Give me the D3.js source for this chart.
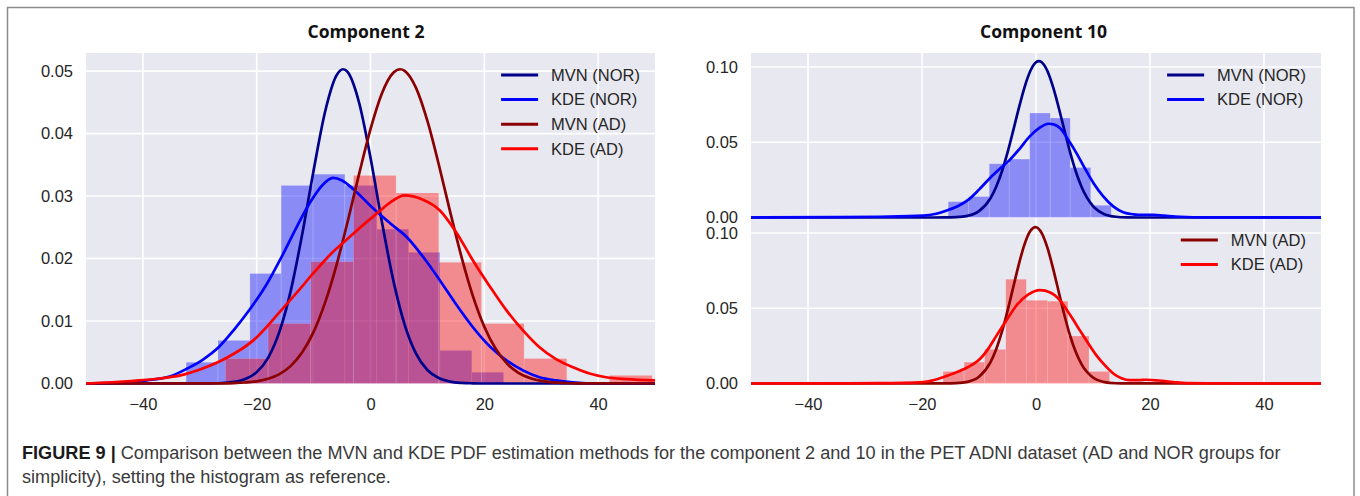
<!DOCTYPE html>
<html><head><meta charset="utf-8">
<script src="https://cdn.jsdelivr.net/npm/d3@7"></script>
<style>body{margin:0;background:#fff;} svg{display:block;}</style>
</head><body><svg id="chart" width="1360" height="496"></svg>
<script>
// ---------------- DATA ----------------
const xTicks = [-40, -20, 0, 20, 40];
const c2YTicks = [0, 0.01, 0.02, 0.03, 0.04, 0.05];
const c10YTicks = [0, 0.05, 0.10];

const titles = ['Component 2', 'Component 10'];
const seriesNames = ['MVN (NOR)', 'KDE (NOR)', 'MVN (AD)', 'KDE (AD)'];

// Component 2 histograms (bin edges + density heights)
const c2NorEdges = [-32.4, -26.8, -21.2, -15.7, -10.1, -4.5, 1.1, 6.7, 12.2, 17.8, 23.4];
const c2NorHist  = [0.0034, 0.0069, 0.0176, 0.0317, 0.0335, 0.0317, 0.0247, 0.0210, 0.0053, 0.0018];
const c2AdEdges  = [-25.5, -18, -10.5, -3, 4.5, 12, 19.5, 27, 34.5, 42, 49.5];
const c2AdHist   = [0.0040, 0.0096, 0.0195, 0.0333, 0.0305, 0.0194, 0.0096, 0.0040, 0, 0.0013];

// Component 2 curves [x, density]
const c2MvnNor = [[-50,0],[-30,0.00001],[-28,0.00002],[-26,0.00008],[-24,0.00025],[-22,0.00072],[-20,0.00182],[-18,0.00411],[-16,0.0083],[-14,0.01491],[-12,0.02389],[-10,0.03411],[-8,0.04342],[-6,0.04927],[-4.8,0.0503],[-4,0.04984],[-2,0.04494],[0,0.03613],[2,0.02589],[4,0.01654],[6,0.00942],[8,0.00478],[10,0.00216],[12,0.00087],[14,0.00031],[16,0.0001],[18,0.00003],[20,0],[50,0]];
const c2KdeNor = [[-50,0],[-45,0.0001],[-39.3,0.0005],[-35,0.0012],[-32.2,0.0024],[-29.5,0.0038],[-26.7,0.0058],[-24,0.0086],[-21.1,0.0120],[-18.3,0.0158],[-15.6,0.0203],[-13,0.0250],[-10.6,0.0290],[-8.5,0.0317],[-6.6,0.0329],[-5,0.0325],[-3,0.0311],[0.5,0.0280],[3.5,0.0256],[6.4,0.0234],[9.3,0.0202],[12.2,0.0165],[15.1,0.0126],[18,0.0090],[21,0.0059],[23.9,0.0037],[26.8,0.0021],[29.7,0.0010],[32.6,0.0005],[35.5,0.0002],[40,0],[50,0]];
const c2MvnAd = [[-50,0],[-26,0.00003],[-24,0.00006],[-22,0.00016],[-20,0.00035],[-18,0.00075],[-16,0.0015],[-14,0.00282],[-12,0.00499],[-10,0.00827],[-8,0.0129],[-6,0.01888],[-4,0.02596],[-2,0.03355],[0,0.04072],[2,0.04643],[4,0.04974],[5.2,0.0503],[6,0.05005],[8,0.04731],[10,0.04202],[12,0.03505],[14,0.02747],[16,0.02023],[18,0.01398],[20,0.00909],[22,0.00555],[24,0.00318],[26,0.00171],[28,0.00087],[30,0.00041],[32,0.00018],[34,0.00008],[36,0.00003],[50,0]];
const c2KdeAd = [[-50,0],[-42,0.0004],[-37,0.0008],[-33.4,0.0013],[-29.5,0.0024],[-25.5,0.0040],[-20.6,0.0069],[-15.9,0.0115],[-13,0.0145],[-10,0.0177],[-7,0.0207],[-4.2,0.0230],[-2.4,0.0245],[1.1,0.0272],[3.5,0.0290],[6,0.0301],[9,0.0295],[12.2,0.0277],[15,0.0243],[18,0.0197],[21,0.0155],[23.9,0.0117],[26.8,0.0085],[29.7,0.0058],[32.6,0.0039],[35.6,0.0026],[38.5,0.0016],[41.4,0.0010],[45,0.0007],[50,0.0005]];

// Component 10 histograms
const c10NorEdges = [-15.4, -11.8, -8.2, -4.7, -1.1, 2.5, 6.0, 9.6, 13.2];
const c10NorHist  = [0.0105, 0.0139, 0.0357, 0.0388, 0.0694, 0.0661, 0.0332, 0.0081];
const c10AdEdges  = [-16.3, -12.6, -9.0, -5.3, -1.7, 2.0, 5.6, 9.3, 12.9];
const c10AdHist   = [0.0080, 0.0142, 0.0227, 0.0693, 0.0553, 0.0547, 0.0316, 0.0080];

// Component 10 curves
const c10MvnNor = [[-50,0],[-18,0.00001],[-16,0.00004],[-14,0.00023],[-12,0.00111],[-10,0.00421],[-8,0.01273],[-7,0.0203],[-6,0.03042],[-5,0.0431],[-4,0.05767],[-3,0.0728],[-2,0.08664],[-1,0.0973],[0,0.10315],[0.5,0.1039],[1,0.10315],[2,0.09732],[3,0.0866],[4,0.07277],[5,0.0577],[6,0.04312],[7,0.0304],[8,0.02026],[10,0.00753],[12,0.00222],[14,0.00052],[16,0.0001],[18,0.00001],[50,0]];
const c10KdeNor = [[-50,0],[-35,0.0002],[-27.4,0.0005],[-19.8,0.0012],[-17.5,0.0025],[-15.4,0.005],[-13.5,0.008],[-11.9,0.0117],[-10,0.0185],[-8.1,0.0261],[-6.3,0.0325],[-4.6,0.0383],[-2.8,0.0460],[-1.1,0.0539],[0.6,0.0595],[2.2,0.0623],[3.2,0.0617],[4.2,0.0595],[5.6,0.0520],[7.1,0.0428],[8.6,0.0325],[10.1,0.0228],[11.8,0.0140],[13.6,0.0072],[15.3,0.0035],[17.1,0.0021],[18.8,0.0017],[20.6,0.0017],[22.5,0.0012],[25.3,0.0005],[30,0.0001],[50,0]];
const c10MvnAd = [[-50,0],[-16,0.00003],[-14,0.00021],[-12,0.00111],[-10,0.00449],[-8,0.01407],[-7,0.0226],[-6,0.03408],[-5,0.0482],[-4,0.06388],[-3,0.0794],[-2,0.09263],[-1,0.1013],[-0.1,0.104],[1,0.1000],[2,0.09029],[3,0.0764],[4,0.06068],[5,0.0452],[6,0.03156],[7,0.0207],[8,0.0127],[10,0.00395],[12,0.00095],[14,0.00018],[16,0.00003],[50,0]];
const c10KdeAd = [[-50,0],[-35,0.0001],[-27.4,0.0002],[-19.8,0.0009],[-18,0.0022],[-16.3,0.0042],[-14.4,0.0068],[-12.5,0.0098],[-11,0.0128],[-9.8,0.0164],[-8.3,0.0235],[-6.9,0.0320],[-5.1,0.0425],[-3.4,0.0520],[-1.4,0.0590],[0.7,0.0620],[2.5,0.0605],[4.2,0.0553],[6,0.0455],[7.7,0.0353],[9.2,0.0265],[10.6,0.0187],[12.1,0.0120],[13.6,0.0065],[15,0.0035],[16.5,0.0022],[18,0.0022],[19.4,0.0025],[21.5,0.0020],[24.1,0.0009],[26.4,0.0002],[35,0],[50,0]];

const captionBold = 'FIGURE 9 |';
const captionLine1 = ' Comparison between the MVN and KDE PDF estimation methods for the component 2 and 10 in the PET ADNI dataset (AD and NOR groups for';
const captionLine2 = 'simplicity), setting the histogram as reference.';

// ---------------- STYLE ----------------
const C = {bg:'#e8e8f1', grid:'#ffffff', text:'#262626', navy:'#00008b', blue:'#0000ff', dred:'#8b0000', red:'#ff0000'};
const FONT = '"Liberation Sans", Arial, Helvetica, sans-serif';
const FS = 16.5;

const svg = d3.select('#chart');
const defs = svg.append('defs');

// figure frame
svg.append('rect').attr('x',7.5).attr('y',7.5).attr('width',1346.5).attr('height',540)
  .attr('fill','none').attr('stroke','#8c8c8c').attr('stroke-width',1.5);

let clipId = 0;
function panel(o){
  const x = o.x, y = o.y;
  const [x0,x1] = x.range();
  const [yb,yt] = y.range();
  const g = o.g;
  const id = 'clip' + (clipId++);
  defs.append('clipPath').attr('id',id).append('rect')
    .attr('x',x0).attr('y',yt-2).attr('width',x1-x0).attr('height',yb-yt+4);

  // grid
  g.append('g').selectAll('line.h').data(o.yTicks).join('line')
    .attr('x1',x0).attr('x2',x1).attr('y1',d=>y(d)).attr('y2',d=>y(d))
    .attr('stroke',C.grid).attr('stroke-width',1.6);
  g.append('g').selectAll('line.v').data(xTicks).join('line')
    .attr('x1',d=>x(d)).attr('x2',d=>x(d)).attr('y1',yt).attr('y2',yb)
    .attr('stroke',C.grid).attr('stroke-width',1.6);

  const content = g.append('g').attr('clip-path',`url(#${id})`);
  o.hists.forEach(h=>{
    const bins = h.values.map((v,i)=>({a:h.edges[i], b:h.edges[i+1], v}));
    content.append('g').selectAll('rect').data(bins.filter(d=>d.v>0)).join('rect')
      .attr('x',d=>x(d.a)).attr('width',d=>x(d.b)-x(d.a))
      .attr('y',d=>y(d.v)).attr('height',d=>y(0)-y(d.v))
      .attr('fill',h.color).attr('fill-opacity',0.4)
      .attr('stroke','#ffffff').attr('stroke-opacity',0.18).attr('stroke-width',0.8);
  });
  const line = d3.line().x(d=>x(d[0])).y(d=>y(d[1])).curve(d3.curveMonotoneX);
  o.curves.forEach(c=>{
    content.append('path').attr('d',line(c.data)).attr('fill','none')
      .attr('stroke',c.color).attr('stroke-width',2.7).attr('stroke-linejoin','round');
  });

  // y axis labels
  const ya = g.append('g').attr('transform',`translate(${x0},0)`)
    .call(d3.axisLeft(y).tickValues(o.yTicks).tickFormat(d3.format('.2f')).tickSize(0).tickPadding(13));
  ya.select('.domain').remove();
  ya.attr('font-family',FONT).attr('font-size',FS);
  ya.selectAll('text').attr('fill',C.text);

  if(o.showX){
    const xa = g.append('g').attr('transform',`translate(0,${yb})`)
      .call(d3.axisBottom(x).tickValues(xTicks).tickFormat(d3.format('d')).tickSize(0).tickPadding(15));
    xa.select('.domain').remove();
    xa.attr('font-family',FONT).attr('font-size',FS);
    xa.selectAll('text').attr('fill',C.text);
  }

  // legend
  const lg = g.append('g').attr('font-family',FONT).attr('font-size',FS);
  const texts = o.legend.map((d,i)=> lg.append('text').attr('fill',C.text).text(d.name));
  const maxW = d3.max(texts, t=>t.node().getComputedTextLength());
  const tx = x1 - 15 - maxW;
  o.legend.forEach((d,i)=>{
    const cy = yt + 22 + i*24.6;
    texts[i].attr('x',tx).attr('y',cy).attr('dy','0.35em');
    lg.append('line').attr('x1',tx-50).attr('x2',tx-13).attr('y1',cy).attr('y2',cy)
      .attr('stroke',d.color).attr('stroke-width',3);
  });
}

// ---- Left panel: Component 2 ----
const xL = d3.scaleLinear().domain([-50,50]).range([86,655]);
const yL = d3.scaleLinear().domain([0,0.0529]).range([383.5,53]);
const gL = svg.append('g');
gL.append('rect').attr('x',86).attr('y',53).attr('width',655-86).attr('height',383.5-53).attr('fill',C.bg);
panel({g:gL, x:xL, y:yL, yTicks:c2YTicks, showX:true,
  hists:[{edges:c2NorEdges, values:c2NorHist, color:C.blue},{edges:c2AdEdges, values:c2AdHist, color:C.red}],
  curves:[{data:c2MvnNor,color:C.navy},{data:c2KdeNor,color:C.blue},{data:c2MvnAd,color:C.dred},{data:c2KdeAd,color:C.red}],
  legend:[{name:seriesNames[0],color:C.navy},{name:seriesNames[1],color:C.blue},{name:seriesNames[2],color:C.dred},{name:seriesNames[3],color:C.red}]
});

// ---- Right panels: Component 10 ----
const xR = d3.scaleLinear().domain([-50,50]).range([751,1321]);
const yRT = d3.scaleLinear().domain([0,0.1093]).range([217.5,53]);
const yRB = d3.scaleLinear().domain([0,0.11]).range([383.5,218]);
svg.append('rect').attr('x',751).attr('y',53).attr('width',1321-751).attr('height',383.5-53).attr('fill',C.bg);
const gRB = svg.append('g');
const gRT = svg.append('g');
panel({g:gRB, x:xR, y:yRB, yTicks:c10YTicks, showX:true,
  hists:[{edges:c10AdEdges, values:c10AdHist, color:C.red}],
  curves:[{data:c10MvnAd,color:C.dred},{data:c10KdeAd,color:C.red}],
  legend:[{name:seriesNames[2],color:C.dred},{name:seriesNames[3],color:C.red}]
});
panel({g:gRT, x:xR, y:yRT, yTicks:c10YTicks, showX:false,
  hists:[{edges:c10NorEdges, values:c10NorHist, color:C.blue}],
  curves:[{data:c10MvnNor,color:C.navy},{data:c10KdeNor,color:C.blue}],
  legend:[{name:seriesNames[0],color:C.navy},{name:seriesNames[1],color:C.blue}]
});

// ---- Titles ----
function title(txt, cx, targetW){
  const t = svg.append('text').attr('font-family','"Open Sans","Noto Sans",sans-serif')
    .attr('font-weight','bold').attr('font-size',16).attr('fill','#111')
    .attr('text-anchor','middle').attr('x',cx).attr('y',38).text(txt);
  const w = t.node().getComputedTextLength();
  t.attr('font-size', 16*targetW/w);
}
title(titles[0], 366, 117);
title(titles[1], 1043.5, 127);

// ---- Caption ----
const cap = svg.append('g').attr('font-family',FONT).attr('font-size',18.5).attr('fill','#3a3a3a');
const t1 = cap.append('text');
t1.append('tspan').attr('font-weight','bold').attr('fill','#1a1a1a').text(captionBold);
t1.append('tspan').text(captionLine1);
const w1 = t1.node().getComputedTextLength();
const sx = 1259 / w1;
t1.attr('transform',`translate(22,459) scale(${sx},1)`);
cap.append('text').text(captionLine2).attr('transform',`translate(22,483) scale(${sx},1)`);
</script></body></html>
